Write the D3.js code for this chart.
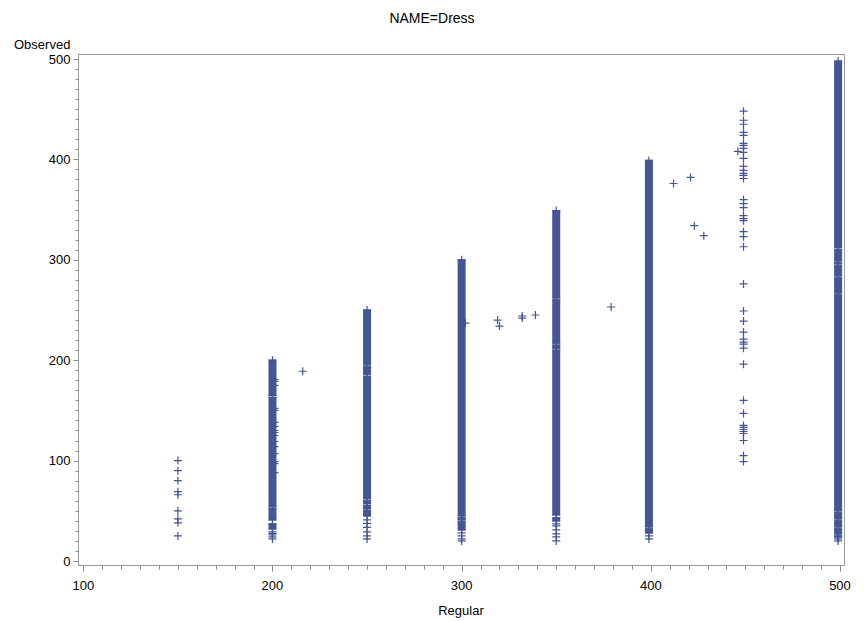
<!DOCTYPE html>
<html>
<head>
<meta charset="utf-8">
<script src="https://cdn.jsdelivr.net/npm/d3@7"></script>
<style>
  body { margin: 0; background: #fff; }
  text { font-family: "Liberation Sans", Arial, sans-serif; fill: #000; }
</style>
</head>
<body>
<svg id="chart" width="864" height="621"></svg>
<script>
// tick labels
var xTicks = [100, 200, 300, 400, 500];
var yTicks = [0, 100, 200, 300, 400, 500];

// dense stretches of observations (column x, [top, bottom] of each solid run)
var runCols = [200, 250, 300, 350, 399, 499];
var runs = [
  [[200, 165], [163, 54], [52, 41], [37, 32]],
  [[250, 196], [194, 186], [184, 62], [60, 57], [55, 52], [50, 45]],
  [[300, 45], [43, 41], [39, 31]],
  [[349, 262], [260, 217], [215, 212], [210, 46], [43, 40]],
  [[399, 34], [32, 28]],
  [[498, 312], [310, 299], [297, 296], [294, 284], [282, 267], [265, 50], [48, 42], [40, 34], [32, 27], [25, 24]]
];

// single observations in the columns
var col150 = [100, 90, 80, 69, 66, 50, 42, 38, 25];
var col200 = [29, 27.5, 26, 24, 22];
var col201 = [181, 179, 175, 152, 150, 138, 134, 130, 128, 125, 119, 114, 107, 99, 97, 88];
var col250 = [41, 37.5, 33.5, 29, 25, 22];
var col300 = [28, 25, 22, 20];
var col350 = [37, 35, 31, 27, 24, 20];
var col400 = [25, 22];
var col449 = [448, 439, 435, 427, 424, 416, 414, 411, 407, 401, 393, 389, 386, 384, 381,
              360, 356, 352, 344, 341, 339, 328, 323, 313, 276, 249, 239, 228, 221, 218,
              216, 212, 196, 160, 147, 135, 133, 131, 129, 127, 120, 105, 99];
var col500 = [22, 20];

// scattered observations between the columns
var otherX = [216, 302, 319, 320, 332, 332, 339, 379, 412, 421, 423, 428, 446];
var otherY = [189, 237, 240, 234, 244, 242, 245, 253, 376, 382, 334, 324, 408];

var color = "#445694";
var svg = d3.select("#chart");

var x = d3.scaleLinear().domain([100, 500]).range([83.3, 840]);
var y = d3.scaleLinear().domain([0, 500]).range([561, 59]);

// frame
svg.append("rect")
  .attr("x", 78.5).attr("y", 54.5)
  .attr("width", 766).attr("height", 511)
  .attr("fill", "none").attr("stroke", "#9a9a9a");

// x axis
var xAxis = svg.append("g").attr("transform", "translate(0,565.5)");
xAxis.selectAll(".minor").data(d3.range(100, 501, 10)).join("line")
  .attr("x1", function(d) { return Math.round(x(d)) + 0.5; })
  .attr("x2", function(d) { return Math.round(x(d)) + 0.5; })
  .attr("y1", 0)
  .attr("y2", function(d) { return d % 100 == 0 ? 6 : 4; })
  .attr("stroke", "#8a8a8a");
xAxis.selectAll("text").data(xTicks).join("text")
  .attr("x", function(d) { return x(d); })
  .attr("y", 24)
  .attr("text-anchor", "middle")
  .attr("font-size", 13)
  .text(function(d) { return d; });

// y axis
var yAxis = svg.append("g").attr("transform", "translate(78.5,0)");
yAxis.selectAll(".minor").data(d3.range(0, 501, 10)).join("line")
  .attr("y1", function(d) { return Math.round(y(d)) + 0.5; })
  .attr("y2", function(d) { return Math.round(y(d)) + 0.5; })
  .attr("x1", 0)
  .attr("x2", function(d) { return d % 100 == 0 ? -5 : -3; })
  .attr("stroke", "#8a8a8a");
yAxis.selectAll("text").data(yTicks).join("text")
  .attr("x", -8)
  .attr("y", function(d) { return y(d) + 4.5; })
  .attr("text-anchor", "end")
  .attr("font-size", 13)
  .text(function(d) { return d; });

// titles
svg.append("text").attr("x", 432).attr("y", 23).attr("text-anchor", "middle")
  .attr("font-size", 14).text("NAME=Dress");
svg.append("text").attr("x", 14).attr("y", 49).attr("font-size", 13).text("Observed");
svg.append("text").attr("x", 461).attr("y", 615).attr("text-anchor", "middle")
  .attr("font-size", 13).text("Regular");

// markers
var plus = "M-4,0H4M0,-4V4";
function drawPoints(xs, ys) {
  svg.append("g").selectAll("path").data(ys).join("path")
    .attr("transform", function(d, i) {
      return "translate(" + x(typeof xs == "number" ? xs : xs[i]) + "," + y(d) + ")";
    })
    .attr("d", plus)
    .attr("fill", "none")
    .attr("stroke", color)
    .attr("stroke-width", 1.2);
}

var plot = svg.append("g");
runCols.forEach(function(cx, i) {
  plot.append("g").selectAll("rect").data(runs[i]).join("rect")
    .attr("x", x(cx) - 4)
    .attr("y", function(d) { return y(d[0]) - 0.6; })
    .attr("width", 8)
    .attr("height", function(d) { return y(d[1]) - y(d[0]) + 1.2; })
    .attr("fill", color);
  var ends = [];
  runs[i].forEach(function(r) { ends.push(r[0], r[1]); });
  drawPoints(cx, ends);
});

drawPoints(150, col150);
drawPoints(200, col200);
drawPoints(201, col201);
drawPoints(250, col250);
drawPoints(300, col300);
drawPoints(350, col350);
drawPoints(399, col400);
drawPoints(449, col449);
drawPoints(499, col500);
drawPoints(otherX, otherY);
</script>
</body>
</html>
